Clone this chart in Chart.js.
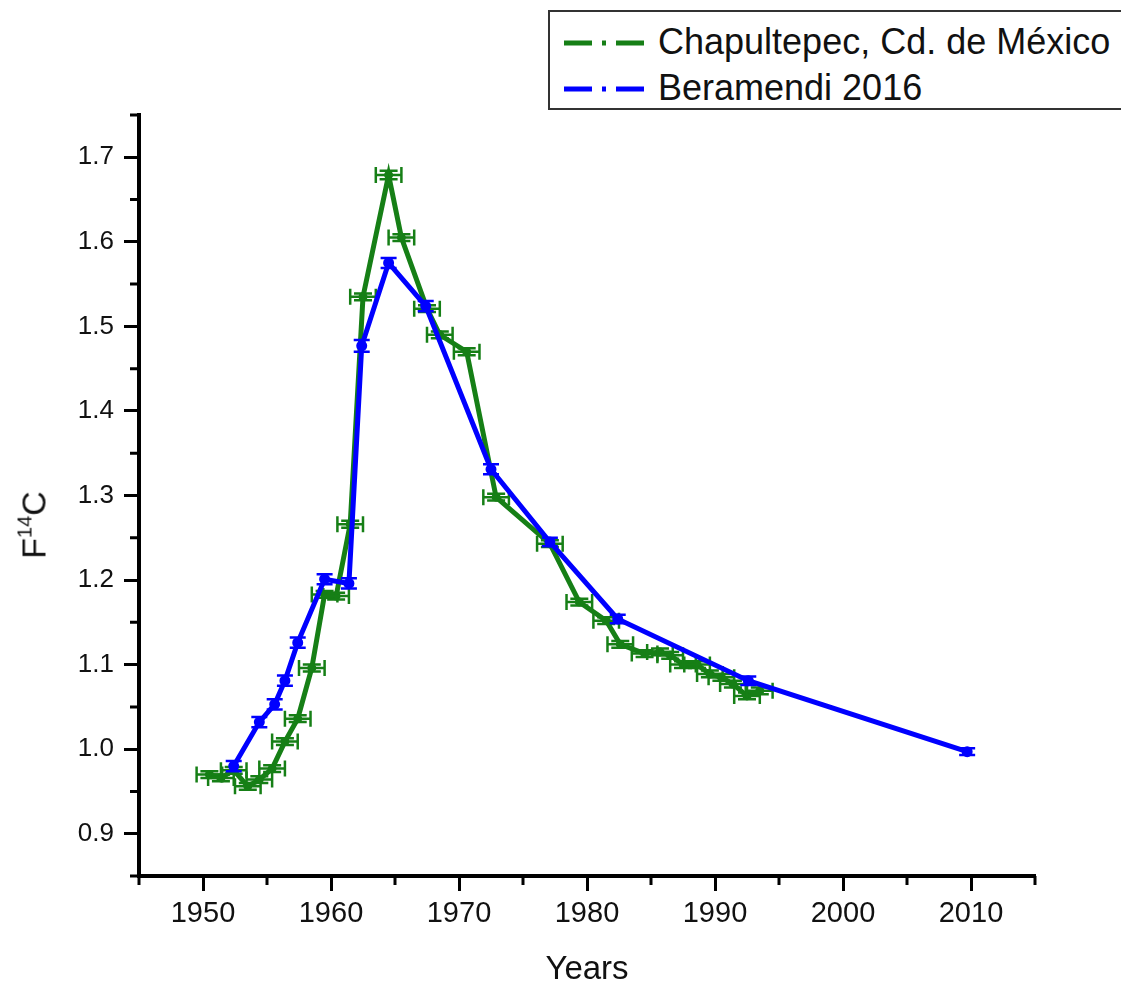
<!DOCTYPE html>
<html>
<head>
<meta charset="utf-8">
<title>F14C vs Years</title>
<script src="https://cdn.jsdelivr.net/npm/chart.js@4.4.1/dist/chart.umd.min.js"></script>
<style>
    body { margin: 0; background: #fff; }
    #wrap { position: relative; width: 1121px; height: 987px; overflow: hidden; }
    #legend {
        position: absolute; left: 548px; top: 10px; width: 620px; height: 96px;
        border: 2px solid #333; background: #fff;
        font-family: 'Liberation Sans', Arial, sans-serif; font-size: 36px; color: #111;
    }
    .row { position: absolute; left: 12px; height: 44px; line-height: 44px; white-space: nowrap; }
    .row svg { vertical-align: top; margin-right: 8px; }
    #ytitle {
        position: absolute; left: 34px; top: 525px;
        transform: translate(-50%, -50%) rotate(-90deg);
        font-family: 'Liberation Sans', Arial, sans-serif; font-size: 34px; color: #111;
        white-space: nowrap;
    }
    #ytitle sup { font-size: 20px; vertical-align: 14px; line-height: 0; }
</style>
</head>
<body>
<div id="wrap">
    <canvas id="f14cChart" width="1121" height="987"></canvas>
    <div id="ytitle">F<sup>14</sup>C</div>
    <div id="legend">
        <div class="row" style="top:8px">
            <svg width="88" height="44"><line x1="2" y1="23" x2="86" y2="23" stroke="#167f16" stroke-width="5" stroke-dasharray="28,10,4,10,28"/></svg>Chapultepec, Cd. de México
        </div>
        <div class="row" style="top:54px">
            <svg width="88" height="44"><line x1="2" y1="23" x2="86" y2="23" stroke="#0000ff" stroke-width="5" stroke-dasharray="28,10,4,10,28"/></svg>Beramendi 2016
        </div>
    </div>
</div>
<script>
// Chapultepec (green) tree-ring series
const greenYears = [1950.5, 1951.4, 1952.4, 1953.5, 1954.4, 1955.4, 1956.4, 1957.4, 1958.5, 1959.5,
    1960.4, 1961.5, 1962.5, 1964.5, 1965.5, 1967.5, 1968.5, 1970.6, 1972.9, 1977.1,
    1979.4, 1981.5, 1982.6, 1984.5, 1985.7, 1986.5, 1987.5, 1988.6, 1989.6, 1990.5,
    1991.4, 1992.5, 1993.5];
const greenF14C = [0.970, 0.966, 0.975, 0.956, 0.964, 0.977, 1.009, 1.036, 1.096, 1.183,
    1.181, 1.266, 1.535, 1.679, 1.605, 1.521, 1.490, 1.470, 1.298, 1.243,
    1.174, 1.152, 1.124, 1.113, 1.115, 1.111, 1.100, 1.100, 1.089, 1.085,
    1.077, 1.063, 1.069];
const greenYearErr = [1.0, 1.0, 1.0, 1.0, 1.0, 1.0, 1.0, 1.0, 1.0, 1.0,
    1.0, 1.0, 1.0, 1.0, 1.0, 1.0, 1.0, 1.0, 1.0, 1.0,
    1.0, 1.0, 1.0, 1.0, 1.0, 1.0, 1.0, 1.0, 1.0, 1.0,
    1.0, 1.0, 1.0];
const greenF14CErr = [0.004, 0.004, 0.004, 0.004, 0.004, 0.004, 0.004, 0.004, 0.004, 0.004,
    0.004, 0.004, 0.004, 0.005, 0.004, 0.004, 0.004, 0.004, 0.004, 0.004,
    0.004, 0.004, 0.004, 0.004, 0.004, 0.004, 0.004, 0.004, 0.004, 0.004,
    0.004, 0.004, 0.004];

// Beramendi 2016 (blue) series
const blueYears = [1952.4, 1954.4, 1955.6, 1956.4, 1957.4, 1959.5, 1961.4, 1962.4, 1964.5, 1967.4,
    1972.5, 1977.1, 1982.4, 1992.6, 2009.7];
const blueF14C = [0.980, 1.032, 1.053, 1.081, 1.126, 1.201, 1.196, 1.477, 1.575, 1.524,
    1.331, 1.245, 1.154, 1.081, 0.997];
const blueF14CErr = [0.006, 0.006, 0.006, 0.006, 0.006, 0.006, 0.006, 0.007, 0.006, 0.006,
    0.006, 0.005, 0.005, 0.005, 0.004];

// axis ticks
const yearTicks = [1950, 1960, 1970, 1980, 1990, 2000, 2010];
const yearMinorTicks = [1945, 1955, 1965, 1975, 1985, 1995, 2005, 2015];
const f14cTicks = [0.9, 1.0, 1.1, 1.2, 1.3, 1.4, 1.5, 1.6, 1.7];
const f14cMinorTicks = [0.85, 0.95, 1.05, 1.15, 1.25, 1.35, 1.45, 1.55, 1.65, 1.75];

const GREEN = '#167f16';
const BLUE = '#0000ff';
const FONT = "'Liberation Sans', Arial, sans-serif";

// draws Origin-style error bars for each dataset that carries errX / errY
const errorBarsPlugin = {
    id: 'errorBars',
    afterDatasetDraw(chart, args) {
        const ds = chart.data.datasets[args.index];
        const xs = chart.scales.x, ys = chart.scales.y;
        const c = chart.ctx;
        c.save();
        c.strokeStyle = ds.borderColor;
        c.lineWidth = 2.5;
        ds.data.forEach((pt, i) => {
            const px = xs.getPixelForValue(pt.x);
            const py = ys.getPixelForValue(pt.y);
            c.beginPath();
            if (ds.errX) {
                const x0 = xs.getPixelForValue(pt.x - ds.errX[i]);
                const x1 = xs.getPixelForValue(pt.x + ds.errX[i]);
                c.moveTo(x0, py); c.lineTo(x1, py);
                c.moveTo(x0, py - 8); c.lineTo(x0, py + 8);
                c.moveTo(x1, py - 8); c.lineTo(x1, py + 8);
            }
            if (ds.errY) {
                const y0 = ys.getPixelForValue(pt.y - ds.errY[i]);
                const y1 = ys.getPixelForValue(pt.y + ds.errY[i]);
                const w = ds.capHalf || 8;
                c.moveTo(px, y0); c.lineTo(px, y1);
                c.moveTo(px - w, y0); c.lineTo(px + w, y0);
                c.moveTo(px - w, y1); c.lineTo(px + w, y1);
            }
            c.stroke();
        });
        c.restore();
    }
};

// shorter minor ticks between the labelled ones
const minorTicksPlugin = {
    id: 'minorTicks',
    afterDraw(chart) {
        const xs = chart.scales.x, ys = chart.scales.y;
        const area = chart.chartArea;
        const c = chart.ctx;
        c.save();
        c.strokeStyle = '#000';
        c.lineWidth = 3;
        c.beginPath();
        yearMinorTicks.forEach(v => {
            const px = xs.getPixelForValue(v);
            c.moveTo(px, area.bottom); c.lineTo(px, area.bottom + 9);
        });
        f14cMinorTicks.forEach(v => {
            const py = ys.getPixelForValue(v);
            c.moveTo(area.left, py); c.lineTo(area.left - 9, py);
        });
        c.stroke();
        c.restore();
    }
};

const ctx = document.getElementById('f14cChart').getContext('2d');

new Chart(ctx, {
    type: 'line',
    data: {
        datasets: [
            {
                label: 'Chapultepec, Cd. de México',
                data: greenYears.map((yr, i) => ({ x: yr, y: greenF14C[i] })),
                errX: greenYearErr,
                errY: greenF14CErr,
                capHalf: 9,
                borderColor: GREEN,
                backgroundColor: GREEN,
                borderWidth: 5,
                pointRadius: 2,
                tension: 0,
                order: 1
            },
            {
                label: 'Beramendi 2016',
                data: blueYears.map((yr, i) => ({ x: yr, y: blueF14C[i] })),
                errY: blueF14CErr,
                capHalf: 8,
                borderColor: BLUE,
                backgroundColor: BLUE,
                borderWidth: 5,
                pointRadius: 3,
                tension: 0,
                order: 0
            }
        ]
    },
    options: {
        responsive: false,
        animation: false,
        layout: { padding: { left: 0, top: 115, right: 86, bottom: 0 } },
        plugins: {
            legend: { display: false },
            tooltip: { enabled: false }
        },
        scales: {
            x: {
                type: 'linear',
                min: 1945,
                max: 2015,
                afterBuildTicks: s => { s.ticks = yearTicks.map(v => ({ value: v })); },
                afterFit: s => { s.height = 111; },
                border: { display: true, color: '#000', width: 4 },
                grid: { drawOnChartArea: false, drawTicks: true, tickLength: 15, tickWidth: 3, color: '#000', tickColor: '#000' },
                ticks: { font: { family: FONT, size: 29 }, color: '#111', padding: 6, maxRotation: 0, callback: v => String(v) },
                title: { display: true, text: 'Years', font: { family: FONT, size: 33, lineHeight: 1.05 }, color: '#111', padding: { top: 0, bottom: 0 } }
            },
            y: {
                type: 'linear',
                min: 0.85,
                max: 1.75,
                afterBuildTicks: s => { s.ticks = f14cTicks.map(v => ({ value: v })); },
                afterFit: s => { s.width = 139; },
                border: { display: true, color: '#000', width: 4 },
                grid: { drawOnChartArea: false, drawTicks: true, tickLength: 15, tickWidth: 3, color: '#000', tickColor: '#000' },
                ticks: { font: { family: FONT, size: 26 }, color: '#111', padding: 10, callback: v => v.toFixed(1) },
                title: { display: false }
            }
        }
    },
    plugins: [errorBarsPlugin, minorTicksPlugin]
});
</script>
</body>
</html>
